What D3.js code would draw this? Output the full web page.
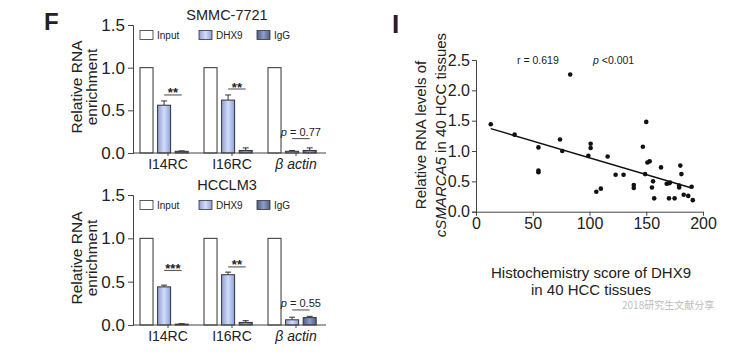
<!DOCTYPE html>
<html>
<head>
<meta charset="utf-8">
<script src="https://cdn.jsdelivr.net/npm/d3@7"></script>
<style>
  body { margin: 0; background: #fff; }
  text { font-family: "Liberation Sans", Arial, sans-serif; fill: #222; }
  .domain, .tick line { stroke: #444; }
</style>
</head>
<body>
<script>
var w = 732;
var h = 353;

// RIP bar panels
var groups = ["I14RC", "I16RC", "β actin"];
var series = ["Input", "DHX9", "IgG"];

var smmcMean = [[1, 0.56, 0.02], [1, 0.62, 0.03], [1, 0.02, 0.03]];
var smmcErr  = [[0, 0.05, 0.005], [0, 0.06, 0.03], [0, 0.01, 0.03]];
var smmcSig = ["**", "**", "0.77"];
var smmcSigLevel = [0.68, 0.75, 0.18];

var lm3Mean = [[1, 0.44, 0.01], [1, 0.58, 0.03], [1, 0.06, 0.085]];
var lm3Err  = [[0, 0.02, 0.005], [0, 0.03, 0.02], [0, 0.03, 0.015]];
var lm3Sig = ["***", "**", "0.55"];
var lm3SigLevel = [0.63, 0.67, 0.185];

var barTicks = [0, 0.5, 1.0, 1.5];

// scatter: histochemistry score vs cSMARCA5
var score = [13, 34, 55, 55, 55, 74, 76, 83, 99, 101, 101, 106, 110, 116, 123, 130, 139, 139, 147, 149,
             150, 151, 153, 155, 156, 157, 163, 168, 170, 170, 171, 175, 180, 181, 179, 179, 183, 187, 190, 191];
var rna = [1.44, 1.27, 1.06, 0.68, 0.65, 1.19, 1.0, 2.26, 0.92, 1.12, 1.05, 0.33, 0.38, 0.91, 0.61, 0.61, 0.39, 0.44, 1.07, 0.62,
           1.48, 0.81, 0.83, 0.40, 0.50, 0.22, 0.73, 0.46, 0.47, 0.22, 0.48, 0.22, 0.76, 0.62, 0.40, 0.43, 0.28, 0.26, 0.41, 0.19];
var fitX = [13, 190];
var fitY = [1.37, 0.39];
var scoreTicks = [0, 50, 100, 150, 200];
var rnaTicks = [0, 0.5, 1.0, 1.5, 2.0, 2.5];

var svg = d3.select("body").append("svg")
    .attr("width", w)
    .attr("height", h);

//gradients for the blue bars
var defs = svg.append("defs");
function grad(id, edge, mid) {
  var lg = defs.append("linearGradient").attr("id", id)
      .attr("x1", "0%").attr("x2", "100%").attr("y1", "0%").attr("y2", "0%");
  lg.append("stop").attr("offset", "0%").attr("stop-color", edge);
  lg.append("stop").attr("offset", "50%").attr("stop-color", mid);
  lg.append("stop").attr("offset", "100%").attr("stop-color", edge);
}
grad("gDHX9", "#8c9fd8", "#d3ddf6");
grad("gIgG", "#4b5d90", "#8e9dc6");
var fills = { "Input": "#fff", "DHX9": "url(#gDHX9)", "IgG": "url(#gIgG)" };

// panel letters
svg.append("text").attr("x", 44).attr("y", 30)
    .attr("font-size", 24).attr("font-weight", "bold").text("F");
svg.append("text").attr("x", 392).attr("y", 33)
    .attr("font-size", 26).attr("font-weight", "bold").text("I");

var x0 = d3.scaleBand().domain(groups).range([136, 328]);
var x1 = d3.scaleBand().domain(series).range([4, 52.2]).paddingInner(0.26);

function drawPanel(title, means, errs, sig, sigLevel, yTop, yBase) {
  var y = d3.scaleLinear().domain([0, 1.5]).range([yBase, yTop]);
  var g = svg.append("g");

  g.append("text").attr("x", 227).attr("y", y(1.5) - 5)
      .attr("text-anchor", "middle").attr("font-size", 14.5).text(title);

  // legend
  var lx = [140, 199, 257];
  series.forEach(function(s, i) {
    g.append("rect").attr("x", lx[i]).attr("y", y(1.5) + 5.5)
        .attr("width", 13).attr("height", 9)
        .attr("fill", fills[s]).attr("stroke", "#333").attr("stroke-width", 0.8);
    g.append("text").attr("x", lx[i] + 17).attr("y", y(1.5) + 13.5)
        .attr("font-size", 10).text(s);
  });

  // y label
  var yc = (yTop + yBase) / 2 - 2;
  ["Relative RNA", "enrichment"].forEach(function(t, i) {
    g.append("text")
        .attr("transform", "translate(" + (82 + i * 15) + "," + yc + ") rotate(-90)")
        .attr("text-anchor", "middle").attr("font-size", 15.5).text(t);
  });

  groups.forEach(function(grp, gi) {
    var gx = x0(grp);
    series.forEach(function(s, si) {
      var bx = gx + x1(s);
      var v = means[gi][si];
      g.append("rect").attr("x", bx).attr("y", y(v))
          .attr("width", x1.bandwidth()).attr("height", y(0) - y(v))
          .attr("fill", fills[s]).attr("stroke", "#333").attr("stroke-width", 1);
      var e = errs[gi][si];
      if (e > 0) {
        var cx = bx + x1.bandwidth() / 2;
        g.append("line").attr("x1", cx).attr("x2", cx)
            .attr("y1", y(v)).attr("y2", y(v + e)).attr("stroke", "#333");
        g.append("line").attr("x1", cx - 3).attr("x2", cx + 3)
            .attr("y1", y(v + e)).attr("y2", y(v + e)).attr("stroke", "#333");
      }
    });
    // significance between DHX9 and IgG
    var c1 = gx + x1("DHX9") + x1.bandwidth() / 2;
    var c2 = gx + x1("IgG") + x1.bandwidth() / 2;
    var ly = y(sigLevel[gi]);
    var isP = gi === 2;
    g.append("line").attr("x1", c1).attr("x2", c2)
        .attr("y1", ly + (isP ? 1 : 0)).attr("y2", ly + (isP ? 1 : 0))
        .attr("stroke", "#333").attr("stroke-width", 0.9);
    if (isP) {
      var pt = g.append("text").attr("x", (c1 + c2) / 2).attr("y", ly - 2)
          .attr("text-anchor", "middle").attr("font-size", 11);
      pt.append("tspan").attr("font-style", "italic").text("p");
      pt.append("tspan").text(" = " + sig[gi]);
    } else {
      g.append("text").attr("x", (c1 + c2) / 2).attr("y", ly + 2.5)
          .attr("text-anchor", "middle").attr("font-size", 13).attr("font-weight", "bold")
          .text(sig[gi]);
    }
  });

  // axes
  g.append("g").attr("transform", "translate(133,0)")
      .call(d3.axisLeft(y).tickValues(barTicks).tickSize(5).tickPadding(3)
          .tickFormat(d3.format(".1f")))
      .call(function(a) { a.selectAll("text").attr("font-size", 17).style("font-family", null); });

  var xa = g.append("g").attr("transform", "translate(0," + yBase + ")");
  xa.append("line").attr("x1", 133).attr("x2", 326).attr("stroke", "#444");
  xa.call(d3.axisBottom(x0).tickSize(3).tickSizeOuter(0).tickPadding(3))
      .call(function(a) {
        a.select(".domain").remove();
        a.selectAll("text").attr("font-size", 14).style("font-family", null)
            .attr("font-style", function(d) { return d === "β actin" ? "italic" : null; });
      });
}

drawPanel("SMMC-7721", smmcMean, smmcErr, smmcSig, smmcSigLevel, 25, 153);
drawPanel("HCCLM3", lm3Mean, lm3Err, lm3Sig, lm3SigLevel, 195, 325);

// scatter panel
var xs = d3.scaleLinear().domain([0, 200]).range([476, 703]);
var ys = d3.scaleLinear().domain([0, 2.5]).range([211.7, 60]);

var sg = svg.append("g");
sg.append("g").attr("transform", "translate(476,0)")
    .call(d3.axisLeft(ys).tickValues(rnaTicks).tickSize(4).tickPadding(2)
        .tickFormat(d3.format(".1f")))
    .call(function(a) { a.selectAll("text").attr("font-size", 16).style("font-family", null); });
sg.append("g").attr("transform", "translate(0,211.7)")
    .call(d3.axisBottom(xs).tickValues(scoreTicks).tickSize(4).tickPadding(2).tickSizeOuter(0))
    .call(function(a) { a.selectAll("text").attr("font-size", 16).style("font-family", null); });

sg.append("path")
    .attr("d", d3.line().x(function(d) { return xs(d[0]); }).y(function(d) { return ys(d[1]); })(d3.zip(fitX, fitY)))
    .attr("stroke", "#111").attr("stroke-width", 1.4).attr("fill", "none");

sg.selectAll("circle").data(d3.zip(score, rna)).enter().append("circle")
    .attr("cx", function(d) { return xs(d[0]); })
    .attr("cy", function(d) { return ys(d[1]); })
    .attr("r", 2.3).attr("fill", "#111");

sg.append("text").attr("x", 517).attr("y", 64).attr("font-size", 10.5)
    .text("r = 0.619");
var pv = sg.append("text").attr("x", 593).attr("y", 64).attr("font-size", 10.5);
pv.append("tspan").attr("font-style", "italic").text("p");
pv.append("tspan").text(" <0.001");

// scatter axis titles
sg.append("text").attr("transform", "translate(426,135) rotate(-90)")
    .attr("text-anchor", "middle").attr("font-size", 15).text("Relative RNA levels of");
var yl2 = sg.append("text").attr("transform", "translate(446,135) rotate(-90)")
    .attr("text-anchor", "middle").attr("font-size", 15);
yl2.append("tspan").attr("font-style", "italic").text("cSMARCA5");
yl2.append("tspan").text(" in 40 HCC tissues");

sg.append("text").attr("x", 591).attr("y", 278).attr("text-anchor", "middle")
    .attr("font-size", 15).text("Histochemistry score of DHX9");
sg.append("text").attr("x", 591).attr("y", 295).attr("text-anchor", "middle")
    .attr("font-size", 15).text("in 40 HCC tissues");

// watermark, kept just under the axis title
sg.append("text").attr("x", 622).attr("y", 309).attr("font-size", 10)
    .style("font-family", "'Noto Sans CJK SC', sans-serif")
    .style("fill", "#bdbdbd")
    .text("2018研究生文献分享");
</script>
</body>
</html>
